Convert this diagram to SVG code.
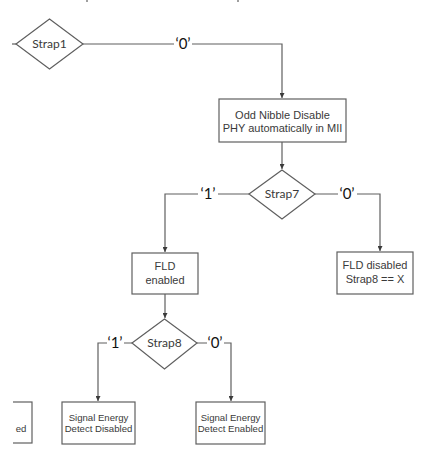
<svg xmlns="http://www.w3.org/2000/svg" width="428" height="471" viewBox="0 0 428 471">
<style>
.shape{fill:#fff;stroke:#5f5f5f;stroke-width:1.2}
.conn{fill:none;stroke:#5f5f5f;stroke-width:1.2}
.dtxt{font-family:Lato,"Open Sans",sans-serif;font-size:12px;fill:#3a3a3a;text-anchor:middle}
.btxt{font-family:"Liberation Sans",Arial,sans-serif;font-size:11px;fill:#3a3a3a;text-anchor:middle}
.stxt{font-family:"Liberation Sans",Arial,sans-serif;font-size:9.6px;fill:#3a3a3a;text-anchor:middle}
.lbl{font-family:Lato,"Open Sans",sans-serif;font-size:15px;fill:#111;text-anchor:middle}
</style>
<defs>
<marker id="arr" viewBox="0 0 6 6" refX="6" refY="3" markerWidth="5" markerHeight="5" orient="auto" markerUnits="userSpaceOnUse">
<path d="M0,0 L6,3 L0,6 z" fill="#3a3a3a"/>
</marker>
<clipPath id="cl"><rect x="13" y="390" width="60" height="60"/></clipPath>
</defs>
<rect width="428" height="471" fill="#fff"/>
<g id="connectors">
<line class="conn" x1="87" y1="0" x2="87" y2="2"/>
<line class="conn" x1="238" y1="0" x2="238" y2="2"/>
<line class="conn" x1="12" y1="44" x2="16" y2="44"/>
<path class="conn" d="M83,44 H174 M192,44 H282 V98" marker-end="url(#arr)"/>
<path class="conn" d="M282,142 V169" marker-end="url(#arr)"/>
<path class="conn" d="M249,194 H218 M198,194 H165 V252" marker-end="url(#arr)"/>
<path class="conn" d="M315,194 H338 M357,194 H380 V251" marker-end="url(#arr)"/>
<path class="conn" d="M165,294 V318" marker-end="url(#arr)"/>
<path class="conn" d="M132,343 H124 M107,343 H98 V401" marker-end="url(#arr)"/>
<path class="conn" d="M197,343 H207 M224,343 H231 V401" marker-end="url(#arr)"/>
<text class="lbl" x="183" y="49">‘0’</text>
<text class="lbl" x="208" y="199">‘1’</text>
<text class="lbl" x="347" y="199">‘0’</text>
<text class="lbl" x="115" y="348">‘1’</text>
<text class="lbl" x="215" y="348">‘0’</text>
</g>
<g id="strap1">
<polygon class="shape" points="16,44 49.5,19 83,44 49.5,69"/>
<text class="dtxt" x="49.5" y="48">Strap1</text>
</g>
<g id="oddnibble">
<rect class="shape" x="219" y="99" width="127" height="43"/>
<text class="btxt" x="282.5" y="119">Odd Nibble Disable</text>
<text class="btxt" x="282.5" y="131.5">PHY automatically in MII</text>
</g>
<g id="strap7">
<polygon class="shape" points="249,194 282,170 315,194 282,219"/>
<text class="dtxt" x="282" y="198">Strap7</text>
</g>
<g id="fldenabled">
<rect class="shape" x="132" y="253" width="66" height="41"/>
<text class="btxt" x="165" y="270">FLD</text>
<text class="btxt" x="165" y="284">enabled</text>
</g>
<g id="flddisabled">
<rect class="shape" x="337" y="252" width="76" height="42"/>
<text class="btxt" x="375" y="269">FLD disabled</text>
<text class="btxt" x="375" y="283">Strap8 == X</text>
</g>
<g id="strap8">
<polygon class="shape" points="132,343 164.5,319 197,343 164.5,369"/>
<text class="dtxt" x="164.5" y="347">Strap8</text>
</g>
<g id="sedisabled">
<rect class="shape" x="62" y="402" width="73" height="42"/>
<text class="stxt" x="98.5" y="421">Signal Energy</text>
<text class="stxt" x="98.5" y="431.5">Detect Disabled</text>
</g>
<g id="seenabled">
<rect class="shape" x="196" y="402" width="69" height="42"/>
<text class="stxt" x="230.5" y="421">Signal Energy</text>
<text class="stxt" x="230.5" y="431.5">Detect Enabled</text>
</g>
<g id="partial" clip-path="url(#cl)">
<rect class="shape" x="-40" y="402" width="72" height="41"/>
<text class="stxt" x="21" y="432" font-size="11" text-anchor="end">ed</text>
</g>
</svg>
